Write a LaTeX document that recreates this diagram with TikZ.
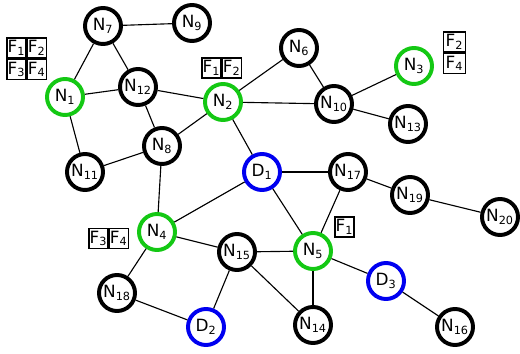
\documentclass[tikz,border=0pt]{standalone}
\usepackage{fontspec}
\setmainfont{DejaVu Sans}
\usetikzlibrary{positioning}
\definecolor{relaygreen}{RGB}{20,200,20}
\definecolor{destblue}{RGB}{0,0,240}
\tikzset{
  vtx/.style={circle,draw=#1,line width=2.8pt,minimum size=0.9cm,inner sep=0pt,font=\fontsize{12}{14}\selectfont},
  edge/.style={line width=0.8pt},
  cell/.style={draw,line width=0.9pt,minimum width=0.475cm,minimum height=0.5cm,inner sep=0.5pt,font=\fontsize{12}{14}\selectfont},
}
\begin{document}
\begin{tikzpicture}[x=0.025cm,y=-0.025cm]
  \useasboundingbox (0,0) rectangle (520,354);
  % nodes
  \foreach \n/\x/\y/\l/\s/\c in {
    n1/65/97/N/1/relaygreen, n2/223/102/N/2/relaygreen, n3/414/66/N/3/relaygreen,
    n4/157/232/N/4/relaygreen, n5/313/251/N/5/relaygreen,
    n6/299/48/N/6/black, n7/103/26/N/7/black, n8/162/146/N/8/black, n9/192/23/N/9/black,
    n10/334/104/N/10/black, n11/85/172/N/11/black, n12/138/87/N/12/black,
    n13/408/124/N/13/black, n14/313/325/N/14/black, n15/237/252/N/15/black,
    n16/455/327/N/16/black, n17/348/172/N/17/black, n18/117/293/N/18/black,
    n19/410/195/N/19/black, n20/500/217/N/20/black,
    d1/262/172/D/1/destblue, d2/206/327/D/2/destblue, d3/386/281/D/3/destblue}
    \node[vtx=\c] (\n) at (\x,\y) {\l\textsubscript{\s}};
  % links
  \foreach \a/\b in {n7/n9, n7/n1, n7/n12, n1/n12, n1/n11, n12/n2, n12/n8, n11/n8,
    n8/n2, n8/n4, n2/n6, n2/n10, n2/d1, n6/n10, n10/n3, n10/n13, d1/n17, d1/n5,
    d1/n4, n17/n5, n17/n19, n19/n20, n4/n15, n4/n18, n15/n5, n15/n14, n15/d2,
    n18/d2, n5/n14, n5/d3, d3/n16}
    \draw[edge] (\a) -- (\b);
  % flow tags
  \node[cell] (fa1) at (16.5,48) {F\textsubscript{1}};
  \node[cell,right=0pt of fa1] (fa2) {F\textsubscript{2}};
  \node[cell,below=0pt of fa1] (fa3) {F\textsubscript{3}};
  \node[cell,right=0pt of fa3] (fa4) {F\textsubscript{4}};
  \node[cell] (fb1) at (211.5,68) {F\textsubscript{1}};
  \node[cell,right=0pt of fb1] (fb2) {F\textsubscript{2}};
  \node[cell,minimum width=0.55cm] (fc2) at (454.5,42) {F\textsubscript{2}};
  \node[cell,minimum width=0.55cm,below=0pt of fc2] (fc4) {F\textsubscript{4}};
  \node[cell] (fd3) at (98.5,238.5) {F\textsubscript{3}};
  \node[cell,right=0pt of fd3] (fd4) {F\textsubscript{4}};
  \node[cell] (fe1) at (344.5,227) {F\textsubscript{1}};
\end{tikzpicture}
\end{document}
